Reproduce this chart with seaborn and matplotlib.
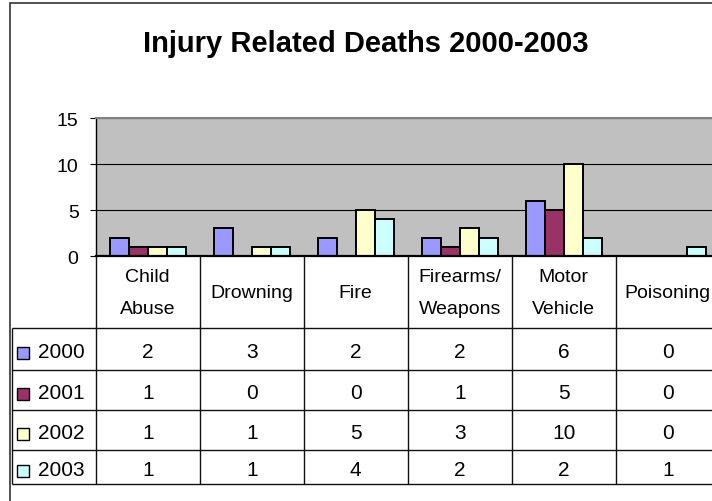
import numpy as np
import pandas as pd
import matplotlib
matplotlib.use("Agg")
import matplotlib.pyplot as plt
from matplotlib.patches import Rectangle
from matplotlib.transforms import IdentityTransform
import seaborn as sns

# ---------------- data ----------------
categories = ["Child\nAbuse", "Drowning", "Fire", "Firearms/\nWeapons", "Motor\nVehicle", "Poisoning"]
years = ["2000", "2001", "2002", "2003"]
deaths_2000 = [2, 3, 2, 2, 6, 0]
deaths_2001 = [1, 0, 0, 1, 5, 0]
deaths_2002 = [1, 1, 5, 3, 10, 0]
deaths_2003 = [1, 1, 4, 2, 2, 1]
year_colors = ["#9999FF", "#993366", "#FFFFCC", "#CCFFFF"]
y_ticks = [0, 5, 10, 15]
title = "Injury Related Deaths 2000-2003"

series = [deaths_2000, deaths_2001, deaths_2002, deaths_2003]
rows = []
for yr, vals in zip(years, series):
    for c, v in zip(categories, vals):
        rows.append({"category": c, "year": yr, "deaths": v})
df = pd.DataFrame(rows)

# ---------------- layout ----------------
plt.rcParams["font.family"] = ["Liberation Sans", "DejaVu Sans"]
W, H = 712, 502
fig = plt.figure(figsize=(W / 100, H / 100), dpi=100)
fig.patch.set_facecolor("white")

def fx(px):
    return px / W

def fy(py):
    return 1 - py / H

plot_l, plot_r, plot_t, plot_b = 95.7, 719.7, 119, 257
col_w = (plot_r - plot_l) / len(categories)

ax = fig.add_axes([fx(plot_l), fy(plot_b), (plot_r - plot_l) / W, (plot_b - plot_t) / H])
sns.barplot(data=df, x="category", y="deaths", hue="year", order=categories,
            hue_order=years, palette=dict(zip(years, year_colors)), saturation=1,
            width=0.73, edgecolor="black", linewidth=1.4, legend=False, ax=ax)
ax.set_xlim(-0.5, len(categories) - 0.5)
ax.set_ylim(0, 15)
ax.set_yticks(y_ticks)
ax.set_facecolor("#C0C0C0")
ax.yaxis.grid(True, color="black", linewidth=0.8)
ax.xaxis.grid(False)
ax.set_axisbelow(True)
ax.set_xticks([])
ax.set_xlabel("")
ax.set_ylabel("")
ax.spines["left"].set_color("black")
ax.spines["left"].set_linewidth(1.0)
ax.spines["bottom"].set_color("black")
ax.spines["bottom"].set_linewidth(1.6)
ax.spines["top"].set_color("#808080")
ax.spines["top"].set_linewidth(1.5)
ax.spines["right"].set_visible(False)
ax.tick_params(axis="y", length=4.6, width=0.8, pad=7.7, labelsize=14, colors="black")

# ---------------- data table ----------------
tab_l, tab_b = 12, 485
row_edges = [329, 371, 411, 451, 485]
x_left = -0.5 - (plot_l - tab_l) / col_w

def px2x(px):
    return -0.5 + (px - plot_l) / col_w

tax = fig.add_axes([fx(tab_l), fy(tab_b), (plot_r - tab_l) / W, (tab_b - plot_b) / H])
tax.set_xlim(x_left, len(categories) - 0.5)
tax.set_ylim(tab_b, plot_b)
tax.axis("off")

lc = "#111111"
for yv in row_edges:
    tax.hlines(yv, x_left, len(categories) - 0.5, color=lc, linewidth=1.0, clip_on=False)
for xv in np.arange(-0.5, len(categories)):
    tax.vlines(xv, plot_b, tab_b, color=lc, linewidth=1.0, clip_on=False)
tax.vlines(x_left, row_edges[0], tab_b, color=lc, linewidth=1.0, clip_on=False)

header_mid = 298.5
for i, c in enumerate(categories):
    lines = c.split("\n")
    n = len(lines)
    for j, line in enumerate(lines):
        tax.text(i, header_mid + (j - (n - 1) / 2) * 32, line, ha="center",
                 va="baseline", fontsize=14, color="black")

for r, (yr, vals, col) in enumerate(zip(years, series, year_colors)):
    center = (row_edges[r] + row_edges[r + 1]) / 2
    base = center + 8.5
    tax.add_patch(Rectangle((px2x(17), center - 2), 12 / col_w, 12, facecolor=col,
                            edgecolor="black", linewidth=1.0, clip_on=False))
    tax.text(px2x(37.7), base, yr, ha="left", va="baseline", fontsize=15, color="black")
    for i, v in enumerate(vals):
        tax.text(i, base, str(v), ha="center", va="baseline", fontsize=15, color="black")

# ---------------- title and frame ----------------
fig.text(fx(366), fy(51.7), title, ha="center", va="baseline", fontsize=21,
         fontweight="bold", color="black")
fig.add_artist(Rectangle((9.8, -20), 800, H - 3.5 + 20, transform=IdentityTransform(),
                         fill=False, edgecolor="#222222", linewidth=1.1))

fig.savefig("out.png", dpi=100, facecolor="white")
